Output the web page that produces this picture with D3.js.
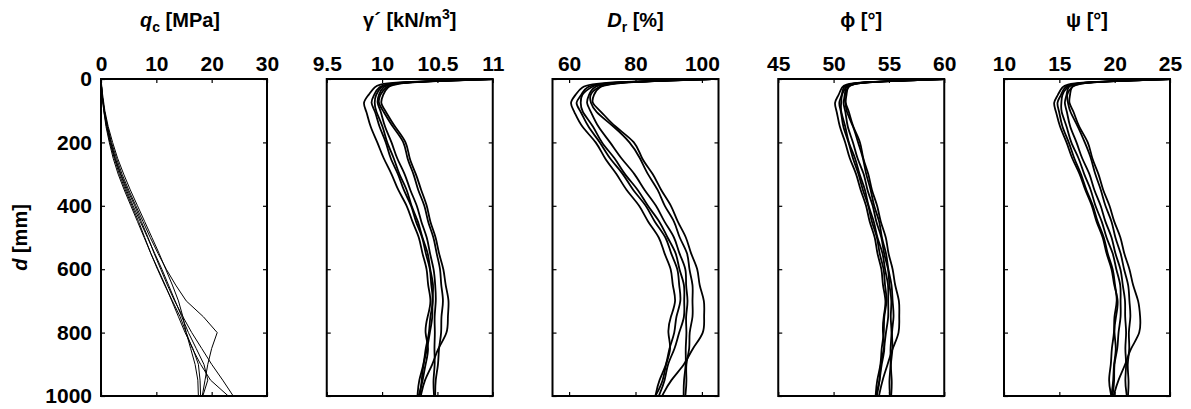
<!DOCTYPE html>
<html>
<head>
<meta charset="utf-8">
<script src="https://cdn.jsdelivr.net/npm/d3@7"></script>
<style>
  body { margin: 0; background: #fff; }
  svg text { font-family: "Liberation Sans", Arial, sans-serif; font-weight: bold; }
</style>
</head>
<body>
<svg id="chart" width="1191" height="409"></svg>
<script>
// depth samples [mm]
var depthQ = [0, 50, 100, 150, 200, 250, 300, 350, 400, 450, 500, 550, 600, 650, 700, 750, 800, 850, 900, 950, 1000];
var depth = [0, 10, 25, 50, 75, 100, 150, 200, 250, 300, 350, 400, 450, 500, 550, 600, 650, 700, 750, 800, 850, 900, 950, 1000];
var depthTicks = [0, 200, 400, 600, 800, 1000];

// cone resistance qc [MPa]
var qc1 = [0, 0.2, 0.5, 1.0, 1.6, 2.4, 3.3, 4.4, 5.6, 6.8, 7.9, 9.0, 10.2, 11.5, 12.9, 14.3, 15.4, 16.2, 17.0, 17.5, 17.6];
var qc2 = [0, 0.2, 0.6, 1.1, 1.8, 2.6, 3.6, 4.8, 6.1, 7.3, 8.5, 9.6, 10.8, 12.0, 13.3, 14.8, 16.4, 18.2, 20.0, 22.0, 23.9];
var qc3 = [0, 0.2, 0.6, 1.2, 1.9, 2.8, 3.8, 5.0, 6.3, 7.6, 8.9, 10.3, 11.8, 13.5, 15.4, 18.5, 21.0, 20.0, 19.3, 18.8, 18.3];
var qc4 = [0, 0.3, 0.7, 1.3, 2.1, 3.0, 4.1, 5.3, 6.6, 7.9, 9.2, 10.5, 11.7, 12.9, 14.0, 14.8, 15.4, 16.5, 18.0, 19.8, 23.0];
var qc5 = [0, 0.2, 0.5, 0.9, 1.5, 2.2, 3.1, 4.2, 5.4, 6.6, 7.8, 9.0, 10.3, 11.6, 12.8, 14.0, 15.2, 16.6, 17.6, 17.9, 18.0];
var qc6 = [0, 0.2, 0.6, 1.1, 1.7, 2.5, 3.5, 4.6, 5.8, 7.1, 8.4, 9.7, 11.0, 12.2, 13.4, 14.6, 15.8, 17.2, 18.6, 19.3, 18.4];

// effective unit weight [kN/m3]
var gam1 = [11.0, 10.0, 9.93, 9.88, 9.82, 9.86, 9.89, 9.96, 10.01, 10.09, 10.14, 10.23, 10.27, 10.34, 10.36, 10.41, 10.41, 10.45, 10.41, 10.38, 10.43, 10.39, 10.37, 10.33];
var gam2 = [11.0, 10.05, 9.99, 9.94, 9.93, 9.94, 10.01, 10.04, 10.11, 10.15, 10.23, 10.26, 10.33, 10.36, 10.42, 10.43, 10.47, 10.45, 10.46, 10.43, 10.41, 10.37, 10.36, 10.34];
var gam3 = [11.0, 10.1, 10.0, 9.97, 9.95, 9.99, 10.02, 10.09, 10.13, 10.21, 10.25, 10.32, 10.35, 10.41, 10.43, 10.47, 10.48, 10.49, 10.47, 10.48, 10.47, 10.48, 10.46, 10.47];
var gam4 = [11.0, 10.15, 10.04, 10.01, 9.98, 10.03, 10.11, 10.23, 10.24, 10.31, 10.35, 10.41, 10.43, 10.49, 10.51, 10.56, 10.57, 10.61, 10.59, 10.60, 10.50, 10.46, 10.38, 10.35];
var gam5 = [11.0, 10.12, 10.03, 9.98, 9.96, 10.01, 10.09, 10.21, 10.22, 10.29, 10.32, 10.39, 10.41, 10.47, 10.49, 10.53, 10.53, 10.56, 10.53, 10.54, 10.51, 10.51, 10.48, 10.48];
var gam6 = [11.0, 10.08, 9.96, 9.93, 9.89, 9.94, 9.97, 10.04, 10.07, 10.15, 10.19, 10.27, 10.30, 10.37, 10.39, 10.44, 10.44, 10.47, 10.43, 10.43, 10.39, 10.38, 10.33, 10.32];

// relative density [%]
var dr1 = [103, 68, 63.5, 62, 60, 61.5, 63.5, 68.5, 70.5, 74.5, 77, 81.5, 83.5, 87.5, 88.5, 91, 91, 92.5, 90.5, 89.5, 91, 89, 88.5, 86];
var dr2 = [103, 70, 66.5, 63.5, 63.5, 63.5, 67.5, 69.5, 74, 76.5, 81, 83.5, 87.5, 89.5, 92.5, 93, 95, 94.5, 95, 93, 92, 89.5, 89, 87];
var dr3 = [103, 72, 67, 66, 65, 66.5, 68.5, 72.5, 75.5, 80, 82.5, 86.5, 88.5, 92, 93, 95.5, 95, 96, 95, 95.5, 95, 95.3, 94.5, 94.5];
var dr4 = [103, 74, 68.5, 67.5, 66.5, 69.5, 73.5, 80.5, 81.5, 85.5, 87.5, 91, 92.5, 95.5, 96.5, 99, 99, 101, 100.5, 101, 97, 95, 90.5, 88];
var dr5 = [103, 73, 68.5, 66, 66.5, 67.5, 73.5, 78.5, 81.5, 83.5, 87, 88.5, 92, 93, 96, 96, 97.5, 97, 97.5, 96, 96.5, 95, 95.5, 95];
var dr6 = [103, 71, 64.5, 64, 61.5, 63.5, 65.5, 69.5, 72, 76.5, 79, 83.5, 85.5, 89.5, 90.5, 93, 93, 94, 92, 92, 90, 89.5, 87, 86];

// friction angle [deg]
var phi1 = [60, 51.3, 50.7, 50.5, 50.0, 50.3, 50.5, 51.1, 51.4, 52.1, 52.4, 53.0, 53.2, 53.8, 53.9, 54.4, 54.4, 54.8, 54.5, 54.4, 54.7, 54.3, 54.2, 53.8];
var phi2 = [60, 51.5, 51.1, 50.7, 50.7, 50.6, 51.1, 51.3, 52.0, 52.3, 52.9, 53.1, 53.7, 53.9, 54.5, 54.6, 55.0, 54.9, 55.0, 54.7, 54.6, 54.2, 54.2, 53.9];
var phi3 = [60, 51.7, 51.0, 51.1, 50.8, 51.1, 51.2, 51.8, 52.1, 52.8, 53.0, 53.6, 53.8, 54.4, 54.5, 55.0, 55.0, 55.3, 55.1, 55.3, 55.1, 55.2, 55.0, 55.1];
var phi4 = [60, 51.9, 51.2, 51.2, 51.0, 51.4, 51.7, 52.5, 52.6, 53.2, 53.4, 54.0, 54.2, 54.8, 54.9, 55.4, 55.5, 56.0, 55.9, 56.0, 55.3, 54.9, 54.4, 54.1];
var phi5 = [60, 51.8, 51.3, 50.9, 51.1, 51.1, 51.8, 52.2, 52.7, 52.9, 53.4, 53.6, 54.2, 54.3, 54.8, 54.9, 55.3, 55.3, 55.5, 55.2, 55.4, 55.1, 55.3, 55.2];
var phi6 = [60, 51.6, 50.8, 50.8, 50.4, 50.7, 50.8, 51.4, 51.7, 52.3, 52.6, 53.2, 53.4, 54.0, 54.1, 54.6, 54.6, 54.9, 54.5, 54.6, 54.3, 54.3, 53.9, 53.8];

// dilatancy angle [deg]
var psi1 = [25, 16.0, 15.2, 14.9, 14.4, 14.7, 15.0, 15.7, 16.1, 16.9, 17.3, 18.0, 18.3, 19.0, 19.2, 19.8, 19.9, 20.4, 20.1, 19.9, 20.2, 19.9, 19.9, 19.7];
var psi2 = [25, 16.3, 15.7, 15.2, 15.2, 15.1, 15.7, 16.0, 16.8, 17.2, 17.9, 18.2, 18.9, 19.2, 19.9, 20.1, 20.6, 20.5, 20.6, 20.3, 20.3, 19.9, 20.0, 19.8];
var psi3 = [25, 16.5, 15.7, 15.7, 15.4, 15.7, 15.9, 16.6, 17.0, 17.8, 18.1, 18.8, 19.1, 19.8, 20.0, 20.6, 20.7, 21.0, 20.9, 21.1, 20.9, 21.1, 20.9, 21.1];
var psi4 = [25, 16.8, 16.0, 16.0, 15.8, 16.3, 16.7, 17.7, 17.9, 18.6, 18.9, 19.6, 19.9, 20.6, 20.8, 21.4, 21.6, 22.2, 22.3, 22.4, 21.4, 21.0, 20.3, 19.9];
var psi5 = [25, 16.7, 16.1, 15.6, 15.8, 15.9, 16.7, 17.3, 17.9, 18.2, 18.8, 19.1, 19.8, 20.0, 20.6, 20.8, 21.3, 21.3, 21.5, 21.2, 21.4, 21.1, 21.3, 21.2];
var psi6 = [25, 16.4, 15.4, 15.2, 14.7, 15.0, 15.2, 15.9, 16.3, 17.0, 17.4, 18.1, 18.4, 19.1, 19.3, 19.9, 20.0, 20.3, 19.9, 20.0, 19.7, 19.7, 19.4, 19.7];

var panels = [
  {domain: [0, 30], ticks: [0, 10, 20, 30], fmt: d3.format("d"), depths: depthQ, series: [qc1, qc2, qc3, qc4, qc5, qc6], lw: 1, curve: d3.curveLinear},
  {domain: [9.5, 11], ticks: [9.5, 10, 10.5, 11], fmt: d3.format("~g"), depths: depth, series: [gam1, gam2, gam3, gam4, gam5, gam6], lw: 1.8, curve: d3.curveBasis},
  {domain: [55, 105], ticks: [60, 80, 100], fmt: d3.format("d"), depths: depth, series: [dr1, dr2, dr3, dr4, dr5, dr6], lw: 1.8, curve: d3.curveBasis},
  {domain: [45, 60], ticks: [45, 50, 55, 60], fmt: d3.format("d"), depths: depth, series: [phi1, phi2, phi3, phi4, phi5, phi6], lw: 1.8, curve: d3.curveBasis},
  {domain: [10, 25], ticks: [10, 15, 20, 25], fmt: d3.format("d"), depths: depth, series: [psi1, psi2, psi3, psi4, psi5, psi6], lw: 1.8, curve: d3.curveBasis}
];

var svg = d3.select("#chart");
var top0 = 79, bottom0 = 396, left0 = 101, pw = 166, gap = 225.75;
var tickFont = 21, titleFont = 20;

var y = d3.scaleLinear().domain([0, 1000]).range([top0, bottom0]);

panels.forEach(function(p, i){
  var x0 = left0 + i * gap;
  var x = d3.scaleLinear().domain(p.domain).range([x0, x0 + pw]);
  var g = svg.append("g");

  var line = d3.line()
    .x(function(d){ return x(d[0]); })
    .y(function(d){ return y(d[1]); })
    .curve(p.curve);

  g.selectAll("path.curve")
    .data(p.series)
    .join("path")
    .attr("class", "curve")
    .attr("d", function(s){ return line(s.map(function(v, k){ return [v, p.depths[k]]; })); })
    .attr("fill", "none")
    .attr("stroke", "#000")
    .attr("stroke-width", p.lw)
    .attr("stroke-linejoin", "round");

  // inward ticks on all four sides
  g.append("g").attr("transform", "translate(0," + top0 + ")")
    .call(d3.axisTop(x).tickValues(p.ticks).tickFormat(p.fmt).tickSize(-4).tickSizeOuter(0).tickPadding(8));
  g.append("g").attr("transform", "translate(0," + bottom0 + ")")
    .call(d3.axisBottom(x).tickValues(p.ticks).tickFormat("").tickSize(-4).tickSizeOuter(0));
  g.append("g").attr("transform", "translate(" + x0 + ",0)")
    .call(d3.axisLeft(y).tickValues(depthTicks).tickFormat(i == 0 ? d3.format("d") : "").tickSize(-4).tickSizeOuter(0).tickPadding(9));
  g.append("g").attr("transform", "translate(" + (x0 + pw) + ",0)")
    .call(d3.axisRight(y).tickValues(depthTicks).tickFormat("").tickSize(-4).tickSizeOuter(0));

  g.selectAll(".domain").remove();
  g.selectAll(".tick line").attr("stroke", "#000").attr("stroke-width", 1.2);
  g.selectAll(".tick text").attr("font-size", tickFont).attr("fill", "#000")
    .style("font-family", "'Liberation Sans', Arial, sans-serif").style("font-weight", "bold");

  g.append("rect")
    .attr("x", x0).attr("y", top0)
    .attr("width", pw).attr("height", bottom0 - top0)
    .attr("fill", "none").attr("stroke", "#000").attr("stroke-width", 2);

  p.cx = x0 + pw / 2;
});

// panel titles
function title(cx, build){
  var t = svg.append("text").attr("x", cx).attr("y", 27).attr("text-anchor", "middle").attr("font-size", titleFont);
  build(t);
}
title(panels[0].cx - 4, function(t){
  t.append("tspan").attr("font-style", "italic").text("q");
  t.append("tspan").attr("font-size", 14).attr("dy", 5).text("c");
  t.append("tspan").attr("dy", -5).text(" [MPa]");
});
title(panels[1].cx, function(t){
  t.append("tspan").text("γ´ [kN/m");
  t.append("tspan").attr("font-size", 14).attr("dy", -8).text("3");
  t.append("tspan").attr("dy", 8).text("]");
});
title(panels[2].cx, function(t){
  t.append("tspan").attr("font-style", "italic").text("D");
  t.append("tspan").attr("font-size", 14).attr("dy", 5).text("r");
  t.append("tspan").attr("dy", -5).text(" [%]");
});
title(panels[3].cx, function(t){ t.text("ϕ [°]"); });
title(panels[4].cx, function(t){ t.text("ψ [°]"); });

// depth axis label
var yl = svg.append("text")
  .attr("transform", "translate(27," + ((top0 + bottom0) / 2) + ") rotate(-90)")
  .attr("text-anchor", "middle").attr("font-size", titleFont);
yl.append("tspan").attr("font-style", "italic").text("d");
yl.append("tspan").text(" [mm]");
</script>
</body>
</html>
